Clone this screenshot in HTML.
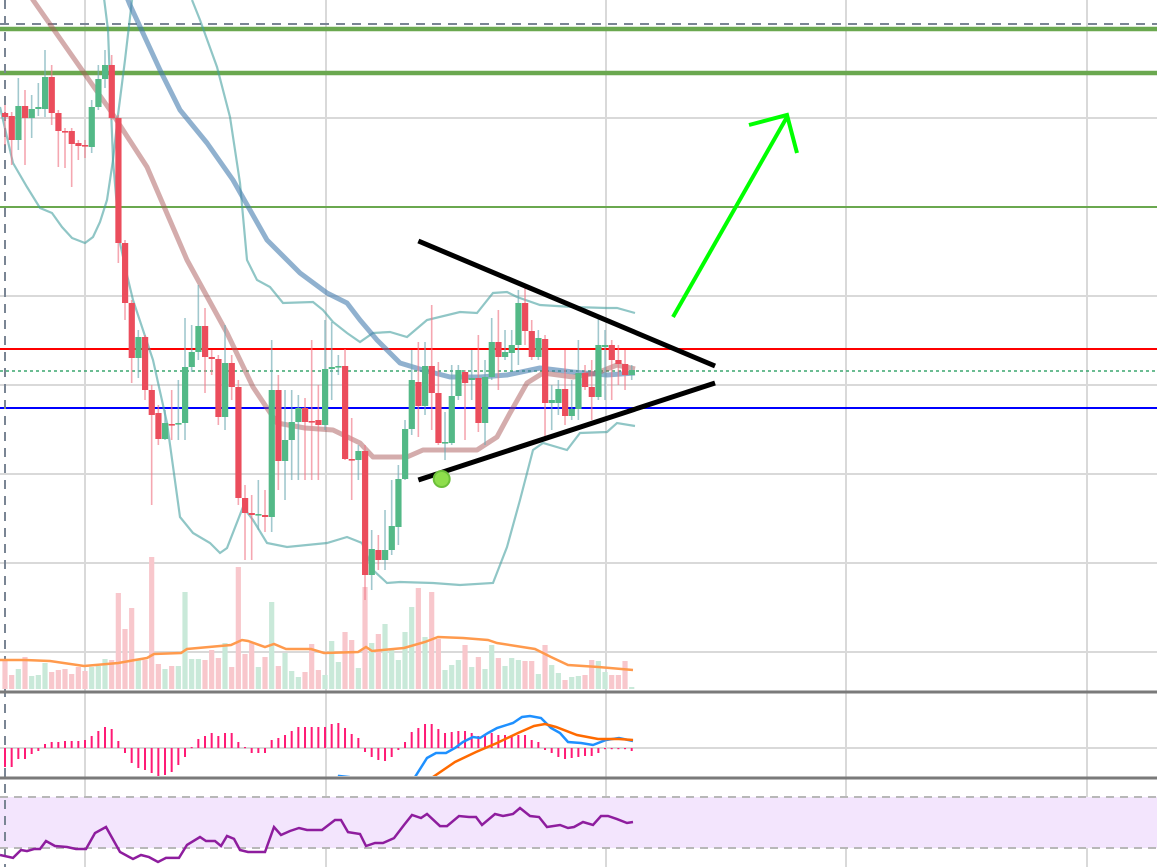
<!DOCTYPE html>
<html><head><meta charset="utf-8"><style>
html,body{margin:0;padding:0;background:#fff;}
svg{display:block;font-family:"Liberation Sans",sans-serif;}
</style></head><body>
<svg id="chart" width="1157" height="867" viewBox="0 0 1157 867" xmlns="http://www.w3.org/2000/svg">
<defs>
<clipPath id="cpMain"><rect x="0" y="0" width="1157" height="690"/></clipPath>
<clipPath id="cpMacd"><rect x="0" y="694" width="1157" height="82"/></clipPath>
<clipPath id="cpRsi"><rect x="0" y="780" width="1157" height="87"/></clipPath>
</defs>
<g id="grid"></g>
<rect x="0" y="797" width="1157" height="51" fill="#f3e5fd"/>
<g id="levels"></g>
<g id="vol" clip-path="url(#cpMain)"></g>
<g id="ind" clip-path="url(#cpMain)"></g>
<g id="candles" clip-path="url(#cpMain)"></g>
<g id="macd" clip-path="url(#cpMacd)"></g>
<g id="rsi" clip-path="url(#cpRsi)"></g>
<g id="annot"></g>
</svg>
<script>
const openP=[487,484,460,494,482,491,491,523,487,469,469,457,455,453,493,521,535,482,357,297,242,263,210,187,161,176,176,177,233,248,274,243,241,183,237,213,102,87,85,85,83,210,139,160,178,192,179,180,175,231,233,234,141,140,149,25,50,40,50,73,121,171,218,194,234,207,157,157,204,228,220,222,177,223,258,243,247,255,297,269,243,261,197,197,211,184,191,227,213,203,253,255,240,236,225];
const closeP=[483,460,494,482,491,493,523,487,469,468,456,454,454,493,521,535,482,357,297,242,263,210,185,161,177,175.5,177,233,248,274,243,241,183,237,213,102,87,85,86,83,210,139,160,178,192,178,178,175,231,233,234,141,140,149,25,51,40,50,74,121,171,220,194,234,207,157,158,204,230,217,222,177,223,258,243,248,255,297,269,243,262,197,200,211,184,191,227,213,203,255,255,240,236,225,230];
const highP=[495,488,522,510,505,517,550,535,490,472,472,460,460,500,535,550,545,485,360,300,270,265,215,195,190,210,220,282,275,315,292,250,245,275,245,220,115,105,120,110,260,225,210,210,205,202,260,215,280,278,245,251,182,155,155,70,65,90,120,135,180,250,258,258,295,238,188,235,235,230,250,265,240,282,290,270,270,310,313,280,270,265,215,220,250,220,260,235,240,282,270,260,255,250,235];
const lowP=[455,435,450,435,462,484,483,475,433,432,413,440,442,447,490,512,480,337,280,217,222,200,95,155,160,160,160,160,228,240,207,225,175,170,200,95,40,40,70,68,68,110,100,120,120,120,120,120,170,200,225,140,100,120,0,10,30,30,45,55,120,165,163,185,170,155,140,155,200,160,200,168,155,220,210,240,230,235,255,240,240,160,170,185,175,180,180,210,180,200,200,200,215,210,220];
const volumes=[29,14,20,32,13,14,26,17,19,20,15,22,18,22,23,30,29,96,60,81,29,29,132,25,20,23,23,97,30,30,29,39,31,46,22,122,35,46,22,32,87,23,36,18,12,17,45,19,14,48,27,57,49,21,102,46,55,65,39,29,57,82,101,52,97,50,19,24,29,44,22,32,20,44,31,23,31,29,28,28,15,44,24,16,9,12,13,14,29,28,17,14,14,28,2];
const volMA=[[-0.75,29],[3,29],[6.75,28],[11.85,23],[17,26],[19.5,29],[21.3,31],[22.35,35],[26.4,36],[27.3,40],[33.9,44],[35.55,49],[36.45,48],[39,42],[40.35,45],[42.15,40],[45.9,40],[47.85,36],[52.95,37],[54.15,42],[55.05,38],[59.85,41],[63,47],[64.95,52],[68.7,51],[72.45,49],[73.8,46],[79.5,40],[81.9,32],[84.45,24],[89,22],[94.2,19]];
const maSlow=[[3,615],[4.2,600],[15.75,490],[21.3,433],[27.3,340],[33.3,267],[37.2,213],[40.8,177],[45,172],[49.2,170],[53.25,157],[55.2,143],[60.3,143],[62.7,150],[70.8,150],[73.8,163],[75.75,187],[78.3,217],[80.7,227],[85.2,223],[88.8,227],[91.8,235],[94.5,231]];
const maBlue=[[17.25,620],[18.75,595],[23.25,530],[26.25,490],[30.3,457],[34.2,420],[39.3,360],[44.25,327],[48.3,307],[51.3,297],[53.25,280],[55.8,260],[59.25,237],[62.7,230],[66.75,223],[71.25,223],[75.3,225],[80.25,232],[85.2,228],[90.3,225],[94.5,227]];
const bandA=[[-0.75,493],[1.2,437],[3.3,413],[5.25,392],[7.05,387],[8.55,373],[10.05,362],[12,357],[13.2,363],[14.25,378],[15.3,400],[16.2,440],[16.95,485],[18,540],[19.05,600],[19.5,620]];
const bandB=[[14.7,610],[15.45,570],[16.2,440],[17.25,357],[18.3,325],[19.2,300],[22.2,240],[24.3,177],[26.25,83],[28.2,67],[30.75,57],[32.25,47],[33.3,52],[35.7,93],[37.2,80],[39.3,57],[42.3,53],[48.3,57],[51.3,63],[53.55,57],[55.2,30],[57.3,17],[59.25,18],[64.2,17],[68.25,15],[73.2,17],[75.3,53],[77.25,100],[79.2,150],[80.7,157],[84.3,150],[86.25,167],[90.3,168],[91.8,177],[94.5,174]];
const bandUpper=[[28.05,600],[29.25,580],[31.8,533],[33.75,483],[35.25,417],[36.3,340],[37.8,320],[39.75,313],[41.7,297],[46.2,298],[47.7,290],[49.2,278],[51.3,267],[53.25,258],[55.2,267],[57.75,268],[60.3,263],[63.3,280],[68.25,288],[70.8,287],[73.2,307],[75.3,308],[76.8,303],[80.25,295],[85.2,293],[90.3,292],[91.8,292],[94.5,287]];
const macdHist=[-19,-19,-11,-11,-6,-3,4,6,6,7,7,7,8,12,17,21,19,7,-5,-15,-20,-22,-25,-29,-27,-24,-17,-9,1,9,12,15,12,15,15,6,1,-5,-5,-5,8,10,13,17,21,21,21,21,21,24,25,20,14,10,-4,-9,-12,-13,-9,-2,6,16,20,24,24,19,15,16,17,17,15,12,13,15,13,13,13,13,13,8,6,-2,-5,-9,-11,-10,-9,-8,-8,-5,-1,-1,-1,-1,-3];
const macdLine=[[48.75,-52],[50.1,-28],[51.6,-29],[52.5,-52],[60,-52],[61.5,-29],[63.3,-10],[64.65,-5],[66.15,-5],[67.5,0],[68.7,6],[70.2,11],[71.25,10],[72.45,15],[73.8,20],[76.2,25],[77.55,31],[78.75,32],[80.4,30],[81.9,20],[83.25,15],[84.45,6],[86.4,5],[88.2,3],[90.15,8],[92.1,10],[94.2,7]];
const signalLine=[[63,-52],[64.2,-29],[67.5,-14],[70.65,-4],[73.8,5],[76.95,15],[79.35,22],[81,24],[82.65,21],[85.8,13],[88.95,9],[92.1,9],[94.2,8]];
const rsiValues=[[-0.75,24.5],[1.2,22.2],[2.4,28.4],[3.3,27.6],[4.35,29.2],[5.25,29.2],[6.15,35.5],[7.5,31.6],[9.3,30.8],[10.65,29.2],[12.15,29.2],[13.5,41.8],[15.15,46.5],[17.25,26.9],[19.2,21.4],[20.4,24.5],[21.6,22.9],[22.95,19],[24.15,22.2],[26.1,22.2],[27.3,32.4],[29.25,38.6],[30.15,35.5],[31.5,35.5],[32.4,31.6],[33.3,39.4],[34.35,37.1],[35.25,28.4],[36.45,26.9],[39,26.9],[40.35,46.5],[41.4,40.2],[42.75,43.3],[44.1,45.7],[45.3,44.1],[47.55,44.1],[49.5,52],[50.4,52],[51.45,42.5],[53.25,41],[54.15,31.6],[55.5,33.9],[56.7,33.9],[58.35,37.8],[59.85,48],[61.05,55.9],[62.4,53.5],[63.3,56.7],[65.25,47.2],[66.3,47.2],[68.1,55.1],[69.6,54.3],[70.65,54.3],[71.55,48],[73.5,56.7],[74.7,55.1],[76.2,56.7],[77.25,61.4],[78.75,55.1],[80.1,54.3],[81.3,46.5],[83.25,48],[84.45,45.7],[85.35,46.5],[86.7,50.4],[88.2,48],[89.4,55.1],[90.45,55.1],[91.8,52.7],[93.3,49.6],[94.2,50.4]];
const levelPrices=[571,527,393,251,229,192];
const trendUpper=[[62,359],[106.5,234]];
const trendLower=[[62,120],[106.5,217]];
const pivotPoint=[65.5,121];

const NS="http://www.w3.org/2000/svg";
const xS=t=>5+t*6.667;
const yP=p=>600-p;            // price scale
const yV=v=>689-v;            // volume scale
const yM=v=>748-v;            // macd scale
const yR=r=>848-(r-30)*51/40; // rsi scale
function mk(tag,attrs,parent){const e=document.createElementNS(NS,tag);for(const k in attrs)e.setAttribute(k,attrs[k]);parent.appendChild(e);return e;}
function poly(pts,fx,fy){return pts.map(p=>fx(p[0]).toFixed(1)+","+fy(p[1]).toFixed(1)).join(" ");}
const G=id=>document.getElementById(id);

// grid
const grid=G('grid');
[85,326,606,846,1087].forEach(x=>{const l=mk('line',{x1:x,x2:x,y1:0,y2:867,stroke:'#d9d9d9','stroke-width':2},grid);

});
[118,296,385,474,563,652].forEach(y=>{const l=mk('line',{x1:0,x2:1157,y1:y,y2:y,stroke:'#d9d9d9','stroke-width':2},grid);

});
const zl=mk('line',{x1:0,x2:1157,y1:748,y2:748,stroke:'#d9d9d9','stroke-width':2},grid);



// levels
const lv=G('levels');
const lvStyles=[{c:'#6aa84f',w:4.5},{c:'#6aa84f',w:4.5},{c:'#6aa84f',w:2},{c:'#ff0000',w:2},{c:'#3aa66f',w:1.5,d:'3,3'},{c:'#0000ff',w:2}];
levelPrices.forEach((p,i)=>{const s=lvStyles[i];const a={x1:0,x2:1157,y1:yP(p),y2:yP(p),stroke:s.c,'stroke-width':s.w};if(s.d)a['stroke-dasharray']=s.d;const l=mk('line',a,lv);

});
const dl=mk('line',{x1:0,x2:1157,y1:24,y2:24,stroke:'#7a8594','stroke-width':2,'stroke-dasharray':'9,7'},lv);


const vl=mk('line',{x1:5,x2:5,y1:0,y2:867,stroke:'#7a8594','stroke-width':2,'stroke-dasharray':'9,7'},lv);


[797,848].forEach(y=>{const l=mk('line',{x1:0,x2:1157,y1:y,y2:y,stroke:'#b8b8b8','stroke-width':2,'stroke-dasharray':'8,6'},lv);

});
[692,778].forEach(y=>{const l=mk('line',{x1:0,x2:1157,y1:y,y2:y,stroke:'#7a7a7a','stroke-width':3},lv);

});

// volume
const vg=G('vol');
volumes.forEach((v,i)=>{const up=closeP[i]>=openP[i];const r=mk('rect',{x:xS(i)-2.6,y:yV(v),width:5.2,height:v,fill:up?'#c9e9d9':'#f8c7cc'},vg);

});
const vm=mk('polyline',{points:poly(volMA,xS,yV),fill:'none',stroke:'#ff9a4d','stroke-width':2.5},vg);



// overlays
const ig=G('ind');
[[bandA,'band-lower-line'],[bandB,'band-lower-line'],[bandUpper,'band-upper-line']].forEach(([d,n])=>{const l=mk('polyline',{points:poly(d,xS,yP),fill:'none',stroke:'rgba(70,160,160,0.6)','stroke-width':2.2},ig);

});
const bl=mk('polyline',{points:poly(maBlue,xS,yP),fill:'none',stroke:'rgba(70,125,175,0.6)','stroke-width':5,'stroke-linejoin':'round'},ig);


const br=mk('polyline',{points:poly(maSlow,xS,yP),fill:'none',stroke:'rgba(170,90,90,0.5)','stroke-width':5,'stroke-linejoin':'round'},ig);



// candles
const cg=G('candles');
openP.forEach((o,i)=>{const c=closeP[i];const up=c>=o;const x=xS(i);
const w=mk('line',{x1:x,x2:x,y1:yP(highP[i]),y2:yP(lowP[i]),stroke:up?'rgba(110,170,180,0.65)':'rgba(240,120,135,0.65)','stroke-width':1.6},cg);


const top=Math.min(yP(o),yP(c));const h=Math.max(1.6,Math.abs(yP(o)-yP(c)));
const b=mk('rect',{x:x-3,y:top,width:6.2,height:h,fill:up?'#53b987':'#eb4d5c'},cg);

});

// macd
const mg=G('macd');
macdHist.forEach((v,i)=>{const r=mk('rect',{x:xS(i)-1,y:Math.min(yM(v),748),width:2,height:Math.max(1.2,Math.abs(v)),fill:'#ff1a75'},mg);

});
const ml=mk('polyline',{points:poly(macdLine,xS,yM),fill:'none',stroke:'#1e90ff','stroke-width':2.5},mg);


const sl=mk('polyline',{points:poly(signalLine,xS,yM),fill:'none',stroke:'#ff6a00','stroke-width':2.5},mg);



// rsi
const rg=G('rsi');
const rl=mk('polyline',{points:poly(rsiValues,xS,yR),fill:'none',stroke:'#8e1d9e','stroke-width':2.5},rg);



// annotations
const ag=G('annot');
const tu=mk('line',{x1:xS(trendUpper[0][0]),y1:yP(trendUpper[0][1]),x2:xS(trendUpper[1][0]),y2:yP(trendUpper[1][1]),stroke:'#000','stroke-width':5},ag);


const tl=mk('line',{x1:xS(trendLower[0][0]),y1:yP(trendLower[0][1]),x2:xS(trendLower[1][0]),y2:yP(trendLower[1][1]),stroke:'#000','stroke-width':5},ag);


const pd=mk('circle',{cx:xS(pivotPoint[0]),cy:yP(pivotPoint[1]),r:8,fill:'#8ede4c',stroke:'#6cbf3a','stroke-width':2},ag);


const ar=mk('polyline',{points:'673,317 787,117',fill:'none',stroke:'#00ff00','stroke-width':4},ag);


const ah=mk('polyline',{points:'749,125 787,115 797,153',fill:'none',stroke:'#00ff00','stroke-width':4},ag);


</script>
</body></html>
